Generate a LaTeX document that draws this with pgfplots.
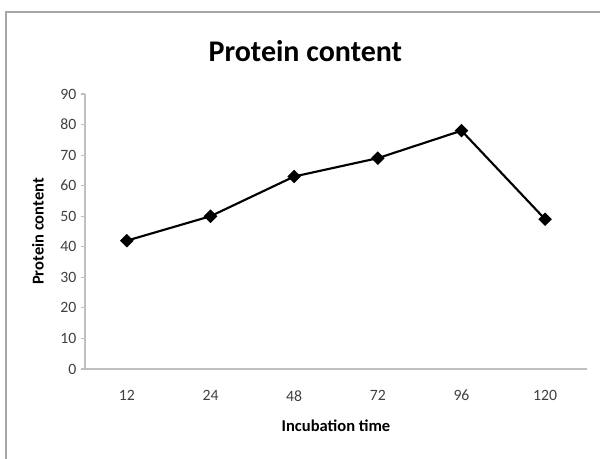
\documentclass[border=0pt]{standalone}
\usepackage{pgfplots}
\pgfplotsset{compat=1.18}
\usepackage{fontspec}
\setmainfont{Carlito}
\definecolor{axgray}{HTML}{BFBFBF}
\definecolor{lblgray}{HTML}{404040}
\begin{document}
\begin{tikzpicture}
\useasboundingbox (0,0) rectangle (450pt,344.25pt);
\draw[gray!70, line width=0.8pt] (4.5pt,-2pt) -- (4.5pt,335.25pt) -- (452pt,335.25pt);
\node[font=\bfseries\fontsize{22.5}{26}\selectfont] at (229pt,306pt) {Protein content};
\begin{axis}[
  at={(63.75pt,67.5pt)}, anchor=south west,
  scale only axis, width=376.5pt, height=206.25pt,
  xmin=-0.5, xmax=5.5, ymin=0, ymax=90,
  axis lines*=left,
  axis line style={axgray, line width=0.8pt},
  xtick={0,...,5},
  xticklabels={12,24,48,72,96,120},
  minor xtick={-0.5,0.5,...,5.5},
  ytick={0,10,...,90},
  tick align=outside,
  x tick style={draw=none},
  minor x tick style={axgray, line width=0.8pt},
  minor tick length=3pt,
  y tick style={axgray, line width=0.8pt},
  major tick length=3pt,
  tick label style={font=\fontsize{11.8}{13}\selectfont, text=lblgray},
  /pgf/number format/assume math mode=true,
  xticklabel style={yshift=-9.5pt},
  xlabel={\textbf{Incubation time}},
  ylabel={\textbf{Protein content}},
  label style={font=\fontsize{12.4}{14}\selectfont},
  xlabel style={yshift=-7pt},
  ylabel style={yshift=5.5pt},
  clip=false,
]
\addplot[black, line width=1.6pt, mark=square*, mark size=2.8pt, mark options={solid, fill=black, rotate=45}]
  coordinates {(0,42) (1,50) (2,63) (3,69) (4,78) (5,49)};
\end{axis}
\end{tikzpicture}
\end{document}
